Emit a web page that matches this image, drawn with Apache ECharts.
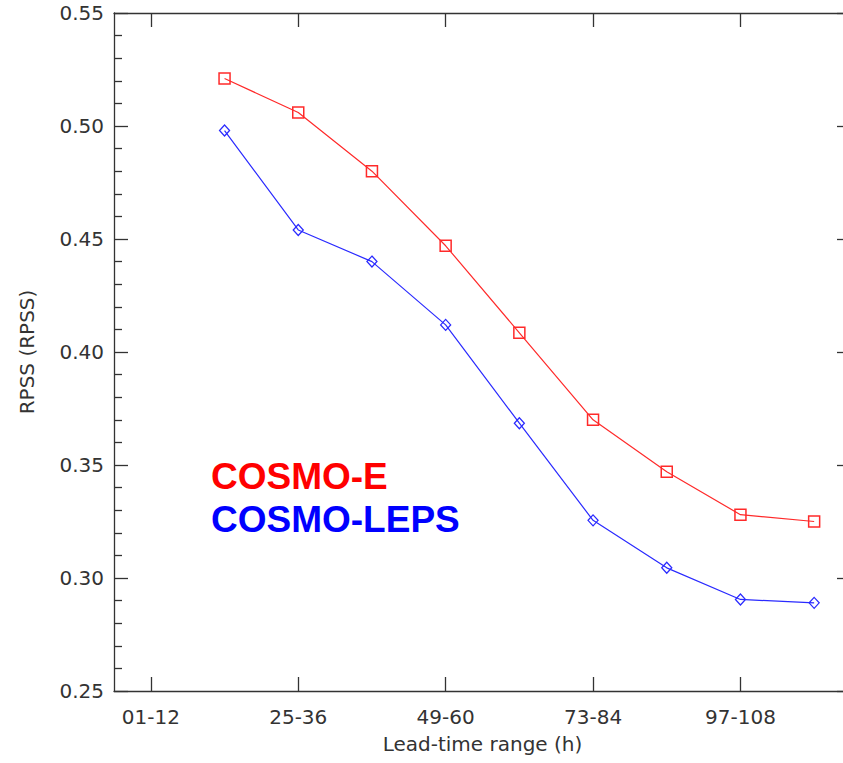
<!DOCTYPE html>
<html>
<head>
<meta charset="utf-8">
<script src="https://cdn.jsdelivr.net/npm/echarts@6/dist/echarts.min.js"></script>
<style>
html,body{margin:0;padding:0;background:#fff;}
#c{width:843px;height:763px;}
</style>
</head>
<body>
<div id="c"></div>
<script>
var categories = ['01-12','13-24','25-36','37-48','49-60','61-72','73-84','85-96','97-108','109-120'];
var seriesNames = ['COSMO-E','COSMO-LEPS'];
var cosmoE    = [null, 0.521, 0.506, 0.480, 0.447, 0.4085, 0.370, 0.347, 0.328, 0.325];
var cosmoLEPS = [null, 0.498, 0.454, 0.440, 0.412, 0.3685, 0.3255, 0.3045, 0.2905, 0.289];
var yTicks = [0.25, 0.30, 0.35, 0.40, 0.45, 0.50, 0.55];
var xTitle = 'Lead-time range (h)';
var yTitle = 'RPSS (RPSS)';

var axisColor = '#333';
var labelFont = {fontFamily:'DejaVu Sans', fontSize:20, color:'#333'};

var chart = echarts.init(document.getElementById('c'), null, {renderer:'svg'});
chart.setOption({
  backgroundColor:'#fff',
  animation:false,
  grid:{left:114, top:13, width:737, bottom:72, containLabel:false, outerBoundsMode:'none'},
  xAxis:[{
    type:'category', data:categories, position:'bottom', boundaryGap:true,
    axisLine:{show:true, lineStyle:{color:axisColor, width:1.3}},
    axisTick:{show:true, inside:true, length:14, interval:1, alignWithLabel:true, lineStyle:{color:axisColor, width:1.3}},
    axisLabel:Object.assign({show:true, interval:1, margin:16}, labelFont),
    splitLine:{show:false},
    name:xTitle, nameLocation:'middle', nameGap:43,
    nameTextStyle:labelFont
  },{
    type:'category', data:categories, position:'top', boundaryGap:true,
    axisLine:{show:true, lineStyle:{color:axisColor, width:1.3}},
    axisTick:{show:true, inside:true, length:14, interval:1, alignWithLabel:true, lineStyle:{color:axisColor, width:1.3}},
    axisLabel:{show:false},
    splitLine:{show:false}
  }],
  yAxis:[{
    type:'value', min:yTicks[0], max:yTicks[yTicks.length-1], interval:0.05, position:'left',
    axisLine:{show:true, lineStyle:{color:axisColor, width:1.3}},
    axisTick:{show:true, inside:true, length:14, lineStyle:{color:axisColor, width:1.3}},
    minorTick:{show:true, splitNumber:5, length:8, lineStyle:{color:axisColor, width:1.3}},
    axisLabel:Object.assign({margin:10, formatter:function(v){return v.toFixed(2);}}, labelFont),
    splitLine:{show:false},
    name:yTitle, nameLocation:'middle', nameGap:77, nameRotate:90,
    nameTextStyle:labelFont
  },{
    type:'value', min:yTicks[0], max:yTicks[yTicks.length-1], interval:0.05, position:'right',
    axisLine:{show:true, lineStyle:{color:axisColor, width:1.3}},
    axisTick:{show:true, inside:true, length:14, lineStyle:{color:axisColor, width:1.3}},
    minorTick:{show:true, splitNumber:5, length:8, lineStyle:{color:axisColor, width:1.3}},
    axisLabel:{show:false},
    splitLine:{show:false}
  }],
  series:[{
    name:seriesNames[0], type:'line', data:cosmoE, xAxisIndex:0, yAxisIndex:0,
    symbol:'rect', symbolSize:11, showAllSymbol:true,
    lineStyle:{color:'#ff2a2a', width:1.2},
    itemStyle:{color:'rgba(0,0,0,0)', borderColor:'#ff2a2a', borderWidth:1.5},
    emphasis:{disabled:true}
  },{
    name:seriesNames[1], type:'line', data:cosmoLEPS, xAxisIndex:0, yAxisIndex:0,
    symbol:'diamond', symbolSize:[10,11], showAllSymbol:true,
    lineStyle:{color:'#2a2aff', width:1.2},
    itemStyle:{color:'rgba(0,0,0,0)', borderColor:'#2a2aff', borderWidth:1.3},
    emphasis:{disabled:true}
  }],
  graphic:[{
    type:'text', left:211, top:458,
    style:{text:seriesNames[0], fill:'#ff0000', font:'bold 37px "Liberation Sans", Arial, sans-serif'}
  },{
    type:'text', left:211, top:501,
    style:{text:seriesNames[1], fill:'#0000ff', font:'bold 37px "Liberation Sans", Arial, sans-serif'}
  }]
});
</script>
</body>
</html>
